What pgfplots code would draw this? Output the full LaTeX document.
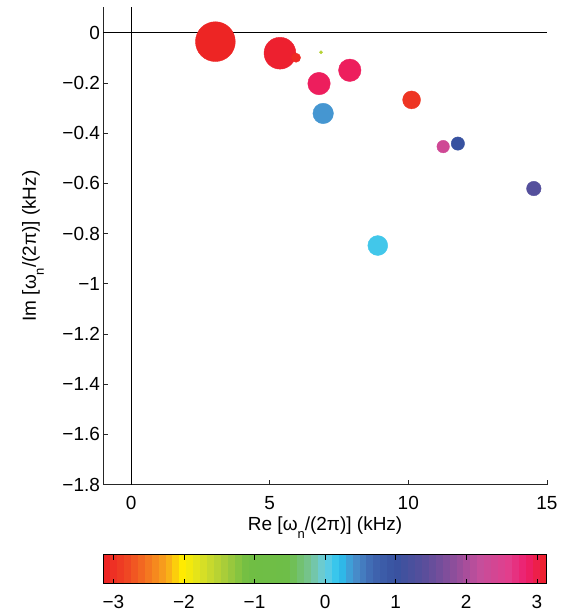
\documentclass[border=0pt]{standalone}
\usepackage{pgfplots}
\pgfplotsset{compat=1.18}
\usepackage{fontspec}
\setmainfont{Liberation Sans}

\newcommand\labelfont{\fontsize{19bp}{22bp}\selectfont}
% low subscript n, as in omega_n
\newcommand\subn{\raisebox{-0.42em}{\fontsize{13bp}{13bp}\selectfont n}}

\pgfplotsset{
  colormap={phasewheel}{
    rgb255(0pt)=(237,32,36)
    rgb255(34pt)=(239,70,35)
    rgb255(64pt)=(244,120,32)
    rgb255(89pt)=(248,165,28)
    rgb255(114pt)=(255,238,0)
    rgb255(144pt)=(212,222,40)
    rgb255(174pt)=(165,204,58)
    rgb255(204pt)=(112,190,68)
    rgb255(264pt)=(110,190,72)
    rgb255(294pt)=(118,196,150)
    rgb255(314pt)=(105,205,225)
    rgb255(334pt)=(40,195,240)
    rgb255(354pt)=(72,145,205)
    rgb255(384pt)=(63,100,175)
    rgb255(414pt)=(56,82,160)
    rgb255(454pt)=(88,78,155)
    rgb255(494pt)=(138,78,155)
    rgb255(534pt)=(196,78,155)
    rgb255(574pt)=(226,62,140)
    rgb255(599pt)=(237,30,110)
    rgb255(628pt)=(237,32,36)
  },
  every tick label/.append style={font=\labelfont},
  mode/.style={scatter, only marks, mark=*, mark size=#1, point meta=explicit,
    scatter/use mapped color={draw=mapped color, fill=mapped color}},
}

\begin{document}
\begin{tikzpicture}
\begin{axis}[
  name=main,
  scale only axis,
  width=443.8bp, height=477.5bp,
  xmin=-1, xmax=15, ymin=-1.8, ymax=0.1,
  axis x line*=bottom, axis y line*=left,
  axis line style={black!85, line width=0.6bp},
  tick style={black!85, line width=0.6bp},
  tick align=inside,
  major tick length=5bp,
  xtick={0,5,10,15},
  xticklabels={0,5,10,15},
  ytick={-1.8,-1.6,-1.4,-1.2,-1,-0.8,-0.6,-0.4,-0.2,0},
  yticklabels={−1.8,−1.6,−1.4,−1.2,−1,−0.8,−0.6,−0.4,−0.2,0},
  xticklabel style={anchor=base, yshift=-25bp},
  every axis x label/.style={at={(axis description cs:0.5,-0.0963)}, anchor=base, font=\labelfont},
  every axis y label/.style={at={(axis description cs:-0.159,0.5)}, rotate=90, anchor=center, font=\labelfont},
  xlabel={Re [ω\subn/(2π)] (kHz)},
  ylabel={Im [ω\subn/(2π)] (kHz)},
  colormap name=phasewheel,
  point meta min=-3.14159, point meta max=3.14159,
  colorbar horizontal,
  colorbar sampled,
  colorbar style={
    at={(0,-0.1466)}, anchor=north west,
    scale only axis,
    width=443.8bp, height=29bp,
    samples=65,
    xtick={-3,-2,-1,0,1,2,3},
    xticklabels={−3,−2,−1,0,1,2,3},
    xtick pos=both,
    xticklabel pos=lower,
    tick align=inside,
    major tick length=5bp,
    tick style={black, line width=0.6bp},
    axis line style={black, line width=0.8bp},
    xticklabel style={anchor=base, yshift=-25bp},
  },
  clip=false,
]
% zero lines
\addplot[black, line width=0.9bp] coordinates {(-1,0) (15,0)};
\addplot[black, line width=0.9bp] coordinates {(0,-1.8) (0,0.1)};
% modes: (Re, Im) [phase], marker radius ~ amplitude
\addplot[mode=20.0] coordinates {(3.04,-0.036) [-3.10]};
\addplot[mode=16.0] coordinates {(5.37,-0.082) [3.10]};
\addplot[mode=4.6]  coordinates {(5.95,-0.100) [-3.05]};
\addplot[mode=1.6]  coordinates {(6.85,-0.078) [-1.50]};
\addplot[mode=11.3] coordinates {(6.78,-0.203) [2.92]};
\addplot[mode=11.3] coordinates {(7.89,-0.150) [2.92]};
\addplot[mode=10.3] coordinates {(6.93,-0.322) [0.38]};
\addplot[mode=9.0]  coordinates {(10.12,-0.268) [-2.95]};
\addplot[mode=6.3]  coordinates {(11.26,-0.454) [2.35]};
\addplot[mode=6.7]  coordinates {(11.79,-0.442) [1.00]};
\addplot[mode=7.3]  coordinates {(14.53,-0.621) [1.35]};
\addplot[mode=10.0] coordinates {(8.90,-0.848) [0.12]};
\end{axis}
\path (main.south west) ++(-103.5bp,-127bp) rectangle ++(575bp,612bp);
\end{tikzpicture}
\end{document}
